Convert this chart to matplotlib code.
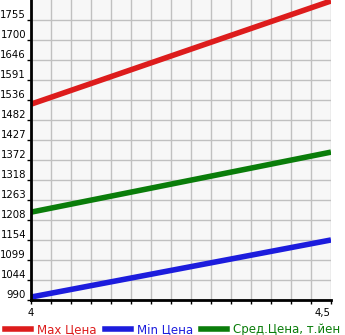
import numpy as np
import matplotlib.pyplot as plt
from matplotlib.ticker import FixedLocator, MultipleLocator

x = [4.0, 4.5]
max_price = [1525, 1807]
min_price = [998, 1154]
avg_price = [1230, 1394]
ytick_labels = ['990', '1044', '1099', '1154', '1208', '1263', '1318', '1372',
                '1427', '1482', '1536', '1591', '1646', '1700', '1755']

step = 54.64
yticks = [990 + i * step for i in range(len(ytick_labels))]

fig = plt.figure(figsize=(3.45, 3.35), dpi=100)
ax = fig.add_axes([31 / 345, 35 / 335, 300 / 345, 300 / 335])
ax.set_facecolor('#f7f7f7')

ax.plot(x, max_price, color='#dd1c1c', lw=4, solid_capstyle='butt')
ax.plot(x, min_price, color='#1c1cdd', lw=4, solid_capstyle='butt')
ax.plot(x, avg_price, color='#0a7d0a', lw=4, solid_capstyle='butt')

ax.set_xlim(4.0, 4.5)
ax.set_ylim(990, 990 + 15 * step)
ax.yaxis.set_major_locator(FixedLocator(yticks))
ax.set_yticklabels(ytick_labels)
ax.set_xticks([4.0, 4.5])
ax.set_xticklabels(['4', '4,5'])
ax.xaxis.set_minor_locator(MultipleLocator(0.5 / 15))
ax.grid(True, which='both', color='#c0c0c0', lw=1)
ax.set_axisbelow(True)

for s in ['top', 'right']:
    ax.spines[s].set_visible(False)
for s in ['left', 'bottom']:
    ax.spines[s].set_linewidth(2)
    ax.spines[s].set_color('black')

ax.tick_params(axis='y', length=3, width=1, pad=0.5, labelsize=7.3)
ax.tick_params(axis='x', which='both', length=3, width=1, pad=3, labelsize=7.3)
for lbl in ax.get_yticklabels():
    lbl.set_verticalalignment('bottom')
xl = ax.get_xticklabels()
xl[0].set_horizontalalignment('center')
xl[1].set_horizontalalignment('right')

handles = [plt.Line2D([], [], color=c, lw=4) for c in ['#dd1c1c', '#1c1cdd', '#0a7d0a']]
names = ['Max Цена', 'Min Цена', 'Сред.Цена, т.йен']
leg = fig.legend(handles, names, loc='lower left', bbox_to_anchor=(-0.015, -0.035),
                 ncol=3, frameon=False, fontsize=8.5, handlelength=2.2,
                 handletextpad=0.5, columnspacing=0.7)
for t, c in zip(leg.get_texts(), ['#dd1c1c', '#1c1cdd', '#0a7d0a']):
    t.set_color(c)

fig.savefig('out.png', dpi=100)
